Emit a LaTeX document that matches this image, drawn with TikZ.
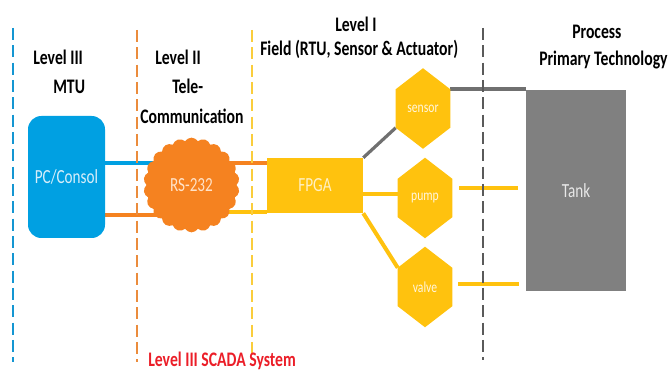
\documentclass[tikz,border=0pt]{standalone}
\usepackage{fontspec}
\setmainfont{Carlito}[FakeStretch=0.76]
\usepackage{tikz}
\usetikzlibrary{calc,shapes.symbols}
\pgfdeclarelayer{bg}
\pgfsetlayers{bg,main}

\definecolor{mtublue}{RGB}{0,160,226}
\definecolor{commorange}{RGB}{245,130,32}
\definecolor{rtuyellow}{RGB}{255,194,14}
\definecolor{tankgray}{RGB}{128,128,128}
\definecolor{linegray}{RGB}{112,112,112}
\definecolor{scadared}{RGB}{235,30,40}

\begin{document}
\begin{tikzpicture}[x=0.75pt,y=0.75pt,yscale=-1,xscale=1,
    heading/.style={anchor=base west,inner sep=0pt,font=\fontsize{15.5}{18}\selectfont\bfseries},
    boxlabel/.style={inner sep=0pt,font=\fontsize{15}{18}\selectfont},
    hexnode/.style={minimum width=40.5pt,minimum height=60pt,inner sep=0pt,text={rgb,255:red,255;green,246;blue,222},font=\fontsize{11.5}{13}\selectfont},
    link/.style={line width=3pt},
    levelline/.style={line width=0.8pt,dash pattern=on 9pt off 4pt}]
        \useasboundingbox (0,0) rectangle (669,373);

        %Straight Lines (level borders)
        \draw [levelline, draw={rgb,255:red,20;green,150;blue,210}] (13,28) -- (13,362) ;
        \draw [levelline, draw={rgb,255:red,235;green,140;blue,60}] (137,30) -- (137,362) ;
        \draw [levelline, draw={rgb,255:red,250;green,205;blue,60}] (252,30) -- (252,360) ;
        \draw [levelline, draw={rgb,255:red,90;green,90;blue,90}] (483,28) -- (483,360) ;

        %Shape: Rounded Rect
        \node [fill=mtublue, rounded corners=10pt, minimum width=57.75pt, minimum height=91.5pt, boxlabel, text={rgb,255:red,215;green,238;blue,250}] (pc) at (66.5,177) {PC/Consol};
        %Shape: Cloud
        \node [cloud, cloud puffs=22, cloud puff arc=115, aspect=1, fill=commorange, minimum width=72pt, minimum height=71pt, boxlabel, text={rgb,255:red,255;green,226;blue,200}] (rs) at (191.5,185) {RS-232};
        %Shape: Rectangle
        \node [fill=rtuyellow, minimum width=72pt, minimum height=41.25pt, boxlabel, text={rgb,255:red,255;green,240;blue,195}] (fpga) at (315,185.5) {FPGA};
        %Shape: Rectangle
        \node [fill=tankgray, minimum width=75pt, minimum height=150.75pt, boxlabel, text={rgb,255:red,232;green,232;blue,232}] (tank) at (576,190.5) {Tank};

        %Shape: Hexagons
        \node [hexnode] (sensor) at (423,108.5) {sensor};
        \node [hexnode] (pump) at (425,198) {pump};
        \node [hexnode] (valve) at (425,287) {valve};

        \coordinate (pcup) at ($(pc.east)+(0,-14)$);
        \coordinate (pcdown) at ($(pc.east)+(0,38)$);
        \coordinate (fpgaup) at ($(fpga.west)+(0,-22.5)$);
        \coordinate (fpgadown) at ($(fpga.south west)+(0,-1.5)$);
        \coordinate (fpgaright) at ($(fpga.east)+(0,8.5)$);
        \coordinate (sensorout) at ($(sensor.north east)+(0,21)$);
        \coordinate (pumpout) at ($(pump.east)+(7,-10)$);
        \coordinate (pumpin) at ($(tank.west |- pumpout)+(-8,0)$);
        \coordinate (valveout) at ($(valve.east)+(6,-3)$);
        \coordinate (valvein) at ($(tank.west |- valveout)+(-7,0)$);

        \begin{pgfonlayer}{bg}
        %Straight Lines
        \draw [link, mtublue] (pcup) -- (rs.center |- pcup) ;
        %Straight Lines
        \draw [link, commorange] (pcdown) -- (rs.center |- pcdown) ;
        %Straight Lines
        \draw [link, commorange] (rs.center |- fpgaup) -- (fpgaup) ;
        %Straight Lines
        \draw [link, rtuyellow] (rs.center |- fpgadown) -- (fpgadown) ;
        %Straight Lines
        \draw [link, line width=2.4pt, linegray] (fpga.north east) -- ($(sensor.south west)+(0,-21)$) ;
        %Straight Lines
        \draw [link, linegray] (sensorout) -- (tank.west |- sensorout) ;
        %Straight Lines
        \draw [link, rtuyellow] (fpgaright) -- (pump.west |- fpgaright) ;
        %Straight Lines
        \draw [link, rtuyellow] (fpga.south east) -- ($(valve.north west)+(0,21)$) ;
        %Straight Lines
        \draw [link, rtuyellow] (pumpout) -- (pumpin) ;
        %Straight Lines
        \draw [link, rtuyellow] (valveout) -- (valvein) ;

        %Shape: Polygon
        \foreach \hx in {sensor,pump,valve}
          \fill [rtuyellow] (\hx.north) -- ($(\hx.north east)+(0,21)$) -- ($(\hx.south east)+(0,-21)$) -- (\hx.south) -- ($(\hx.south west)+(0,-21)$) -- ($(\hx.north west)+(0,21)$) -- cycle ;
        \end{pgfonlayer}

        % Text Node
        \node [heading] (lvthree) at (33,65) {Level III};
        % Text Node
        \node [heading] (mtu) at (53,94) {MTU};
        % Text Node
        \node [heading] (lvtwo) at (155,65) {Level II};
        % Text Node
        \node [heading] (tele) at (172,94) {Tele-};
        % Text Node
        \node [heading] (comm) at (140,124) {Communication};
        % Text Node
        \node [heading] (lvone) at (335,32) {Level I};
        % Text Node
        \node [heading] (field) at (260,56) {Field (RTU, Sensor \& Actuator)};
        % Text Node
        \node [heading] (process) at (572,39) {Process};
        % Text Node
        \node [heading] (primary) at (539,66) {Primary Technology};
        % Text Node
        \node [heading, text=scadared] (scada) at (148,367) {Level III SCADA System};

\end{tikzpicture}
\end{document}
